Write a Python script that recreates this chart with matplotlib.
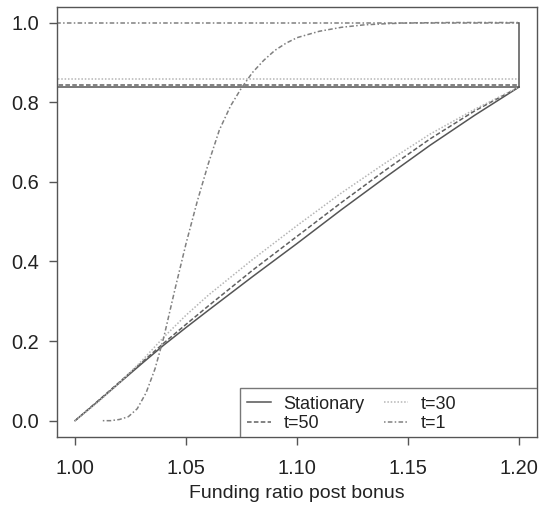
import matplotlib
matplotlib.use("Agg")
import matplotlib.pyplot as plt
from matplotlib.patches import Rectangle

plt.rcParams['font.family'] = ['Liberation Sans', 'DejaVu Sans']

# funding ratio grid for the smooth curves
x_grid = [1.0, 1.01, 1.02, 1.03, 1.04, 1.05, 1.06, 1.08, 1.10, 1.12, 1.14, 1.16, 1.18, 1.20]
stationary = [0.0, 0.047, 0.095, 0.143, 0.19, 0.234, 0.277, 0.362, 0.445, 0.53, 0.612, 0.692, 0.767, 0.838]
t50 = [0.0, 0.048, 0.097, 0.146, 0.195, 0.242, 0.288, 0.378, 0.463, 0.548, 0.63, 0.708, 0.778, 0.838]
t30 = [0.0, 0.045, 0.095, 0.15, 0.21, 0.265, 0.315, 0.405, 0.49, 0.572, 0.648, 0.72, 0.782, 0.838]

x_t1 = [1.0125, 1.016, 1.02, 1.024, 1.028, 1.032, 1.036, 1.04, 1.045, 1.05, 1.055, 1.06,
        1.065, 1.07, 1.075, 1.08, 1.085, 1.09, 1.095, 1.10, 1.11, 1.12, 1.13, 1.14, 1.15, 1.17, 1.2]
t1 = [0.0, 0.0, 0.003, 0.01, 0.03, 0.07, 0.13, 0.21, 0.33, 0.445, 0.55, 0.645,
      0.73, 0.79, 0.836, 0.875, 0.905, 0.93, 0.948, 0.962, 0.978, 0.988, 0.994, 0.997, 0.999, 1.0, 1.0]

# limit levels (horizontal lines) per series
levels = {'Stationary': 0.838, 't=50': 0.843, 't=30': 0.858, 't=1': 1.0}
cap_x = 1.2

labels = ['Stationary', 't=50', 't=30', 't=1']
colors = {'Stationary': '#555555', 't=50': '#606060', 't=30': '#b5b5b5', 't=1': '#808080'}
styles = {'Stationary': '-', 't=50': (0, (3, 1.5)), 't=30': (0, (1, 1.2)), 't=1': (0, (1, 1.5, 3, 1.5))}

xticks = [1.00, 1.05, 1.10, 1.15, 1.20]
yticks = [0.0, 0.2, 0.4, 0.6, 0.8, 1.0]

fig = plt.figure(figsize=(5.42, 5.13), dpi=100)
ax = fig.add_axes([57.3 / 542, 1 - 436.6 / 513, 479.5 / 542, 430 / 513])

series = {'Stationary': (x_grid, stationary), 't=50': (x_grid, t50),
          't=30': (x_grid, t30), 't=1': (x_t1, t1)}
lw = 1.1
handles = []
for lab in labels:
    xs, ys = series[lab]
    h, = ax.plot(xs, ys, color=colors[lab], linestyle=styles[lab], lw=lw, label=lab)
    ax.plot([0.98, cap_x], [levels[lab], levels[lab]], color=colors[lab],
            linestyle=styles[lab], lw=lw)
    handles.append(h)

# jump at the cap
ax.plot([cap_x, cap_x], [levels['Stationary'], 1.0], color='#555555', lw=lw)

ax.set_xlim(0.992, 1.208)
ax.set_ylim(-0.04, 1.04)
ax.set_xticks(xticks)
ax.set_xticklabels(['%.2f' % v for v in xticks])
ax.set_yticks(yticks)
ax.set_yticklabels(['%.1f' % v for v in yticks])
ax.tick_params(length=6, width=1, color='#555555', labelsize=14.4, labelcolor='#222222')
ax.tick_params(axis='y', pad=7)
ax.tick_params(axis='x', pad=10)
for sp in ax.spines.values():
    sp.set_color('#555555')
    sp.set_linewidth(1.0)
ax.set_xlabel('Funding ratio post bonus', fontsize=14, color='#222222', labelpad=5)

# legend frame as in the original
ax.add_patch(Rectangle((0.381, 0.0), 0.619, 0.112, transform=ax.transAxes,
                       facecolor='white', edgecolor='#777777', lw=1.0, zorder=3))
leg = ax.legend(handles=handles, loc='upper left', bbox_to_anchor=(0.381, 0.112),
                ncol=2, frameon=False, fontsize=13, handlelength=1.3, handletextpad=0.7,
                columnspacing=1.1, labelspacing=0.15, borderpad=0.4, borderaxespad=0)
leg.set_zorder(4)
for t in leg.get_texts():
    t.set_color('#222222')

plt.savefig('out.png', dpi=100)
